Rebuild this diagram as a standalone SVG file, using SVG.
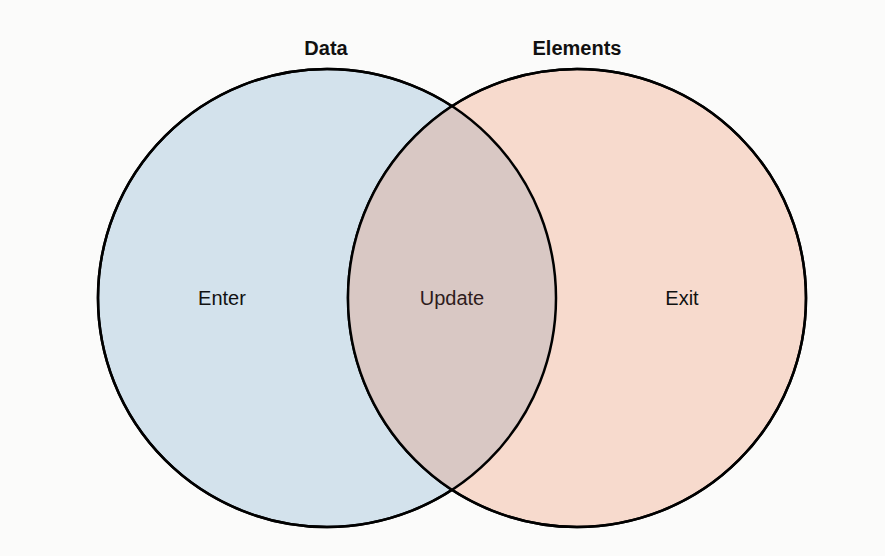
<svg xmlns="http://www.w3.org/2000/svg" width="885" height="556" viewBox="0 0 885 556">
<style>
.c{stroke:#000;stroke-width:2.5}
.t{font-family:"Liberation Sans",Arial,sans-serif;font-size:20px;text-anchor:middle;fill:#111}
.b{font-weight:bold}
</style>
<defs>
<clipPath id="clipL"><circle cx="327" cy="298" r="229"/></clipPath>
</defs>
<rect width="885" height="556" fill="#fbfbfa"/>
<g id="data">
<circle class="c" cx="327" cy="298" r="229" fill="#d3e2ec"/>
</g>
<g id="elements">
<circle class="c" cx="577" cy="298" r="229" fill="#f7dacd"/>
</g>
<g id="update">
<circle cx="577" cy="298" r="229" fill="#d9c8c4" clip-path="url(#clipL)"/>
<circle cx="327" cy="298" r="229" fill="none" stroke="#000" stroke-width="2.5"/>
<circle cx="577" cy="298" r="229" fill="none" stroke="#000" stroke-width="2.5"/>
</g>
<g id="labels">
<text class="t b" x="326" y="55">Data</text>
<text class="t b" x="577" y="55">Elements</text>
<text class="t" x="222" y="305">Enter</text>
<text class="t" x="452" y="305" fill="#2e1c1c" style="fill:#2e1c1c">Update</text>
<text class="t" x="682" y="305">Exit</text>
</g>
</svg>
